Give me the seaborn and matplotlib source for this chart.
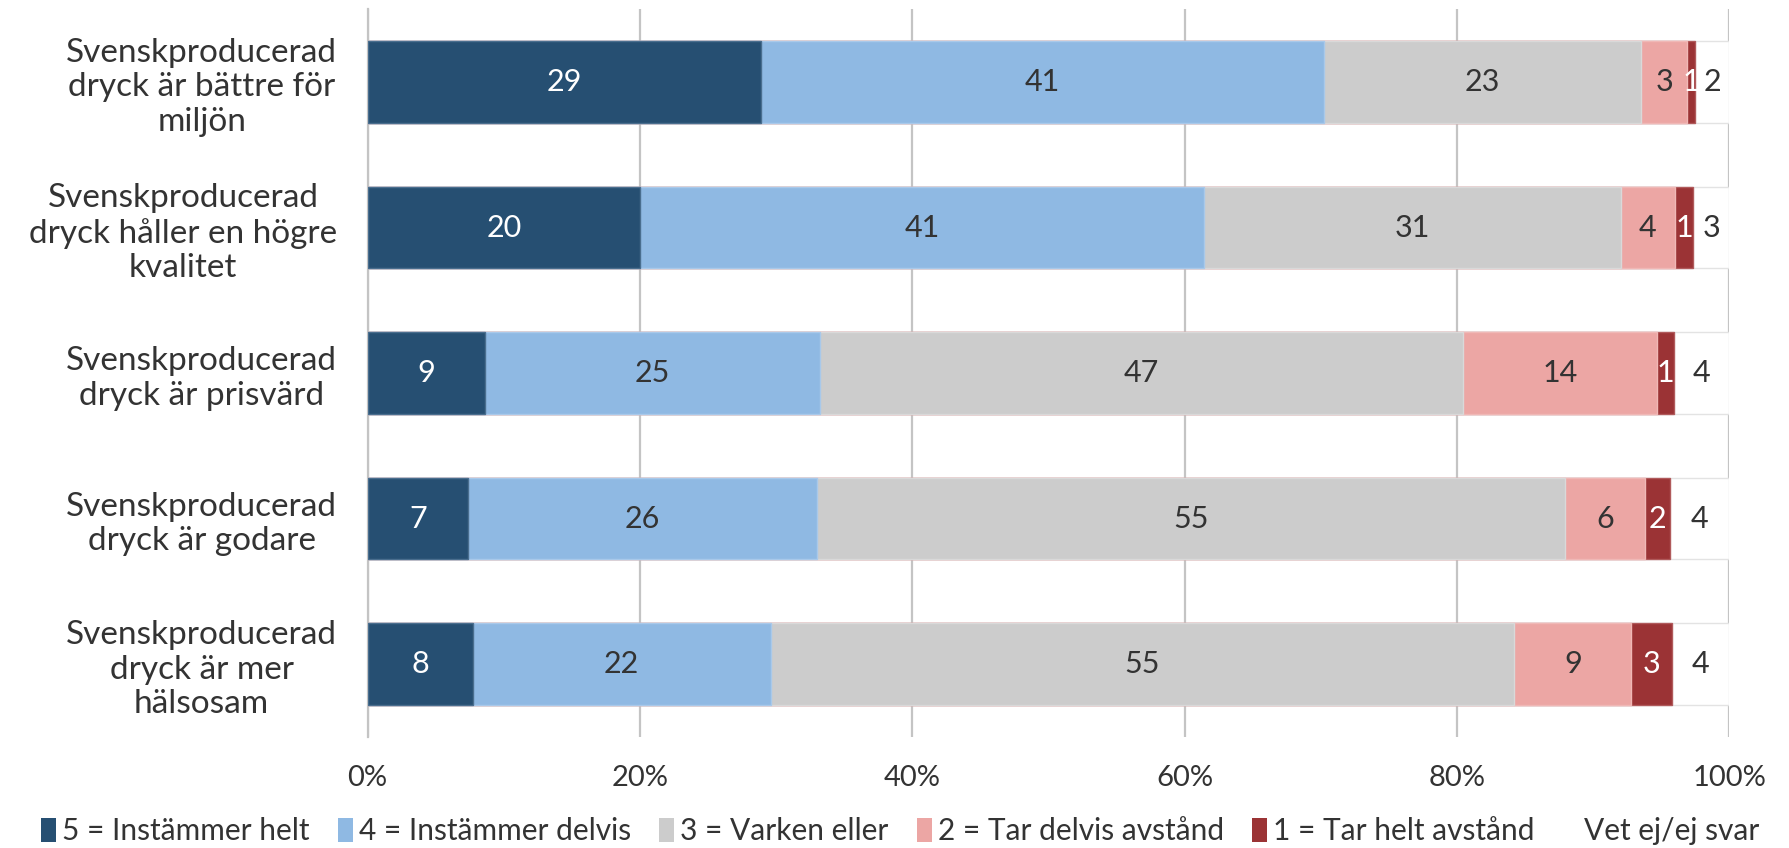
import matplotlib
matplotlib.use("Agg")
import matplotlib.pyplot as plt
import numpy as np
import pandas as pd
import seaborn as sns
from matplotlib.patches import Patch

# Data (percent of respondents per statement)
statements = [
    "Svenskproducerad\ndryck är bättre för\nmiljön",
    "Svenskproducerad\ndryck håller en högre\nkvalitet",
    "Svenskproducerad\ndryck är prisvärd",
    "Svenskproducerad\ndryck är godare",
    "Svenskproducerad\ndryck är mer\nhälsosam",
]
answers = [
    "5 = Instämmer helt",
    "4 = Instämmer delvis",
    "3 = Varken eller",
    "2 = Tar delvis avstånd",
    "1 = Tar helt avstånd",
    "Vet ej/ej svar",
]
agree_full = [28.9, 20.0, 8.6, 7.4, 7.7]
agree_part = [41.3, 41.4, 24.6, 25.6, 21.9]
neutral = [23.3, 30.6, 47.2, 54.9, 54.6]
disagree_part = [3.4, 4.0, 14.3, 5.9, 8.6]
disagree_full = [0.6, 1.3, 1.2, 1.8, 3.0]
dont_know = [2.5, 2.7, 4.1, 4.4, 4.2]

colors = ["#264f72", "#8fb9e3", "#cccccc", "#eca6a4", "#9b3335", "#ffffff"]
edges = ["#4a6e8e", "#a9c9ea", "#d9d9d9", "#f0b8b6", "#b05a5b", "#e3e3e3"]
text_colors = ["white", "#333333", "#333333", "#333333", "white", "#333333"]

sns.set_theme(style="white")
plt.rcParams["font.family"] = ["Lato", "DejaVu Sans"]

series = [agree_full, agree_part, neutral, disagree_part, disagree_full, dont_know]
vals = np.array(series)
cum = vals.cumsum(axis=0)

df = pd.DataFrame(
    {
        "statement": np.tile(statements, len(answers)),
        "answer": np.repeat(answers, len(statements)),
        "value": vals.ravel(),
        "cum": cum.ravel(),
    }
)

fig, ax = plt.subplots(figsize=(17.9, 8.48), dpi=100)
fig.subplots_adjust(left=0.2054, right=0.9662, top=0.989, bottom=0.131)

# draw cumulative bars back to front so shorter stacks sit on top
for i in reversed(range(len(answers))):
    sub = df[df["answer"] == answers[i]]
    sns.barplot(
        data=sub, x="cum", y="statement", orient="h", ax=ax,
        color=colors[i], edgecolor=edges[i], linewidth=1.0,
        width=0.56, saturation=1, zorder=3,
    )

# segment labels
for i in range(len(answers)):
    sub = df[df["answer"] == answers[i]].reset_index(drop=True)
    for j, row in sub.iterrows():
        xc = row["cum"] - row["value"] / 2
        ax.text(xc, j, f"{row['value']:.0f}", ha="center", va="center",
                fontsize=22, color=text_colors[i], zorder=5)

ax.set_xlim(0, 100)
ax.set_xticks(np.arange(0, 101, 20))
ax.set_xticklabels([f"{t}%" for t in range(0, 101, 20)], fontsize=21, color="#333333")
ax.set_xlabel("")
ax.set_ylabel("")
ax.tick_params(axis="x", length=0, pad=20)
ax.tick_params(axis="y", length=0, pad=22)
for lab in ax.get_yticklabels():
    lab.set_multialignment("center")
    lab.set_fontsize(24)
    lab.set_color("#333333")
    lab.set_linespacing(1.2)

ax.xaxis.grid(True, color="#c4c4c4", linewidth=1.6, zorder=0)
ax.set_axisbelow(True)
for side in ["top", "right", "bottom"]:
    ax.spines[side].set_visible(False)
ax.spines["left"].set_color("#c4c4c4")
ax.spines["left"].set_linewidth(1.6)

handles = [Patch(facecolor=c, edgecolor="none") for c in colors]
fig.legend(
    handles, answers, loc="center", bbox_to_anchor=(0.503, 0.02),
    ncol=6, frameon=False, fontsize=21.5, handlelength=0.5, handleheight=0.85,
    handletextpad=0.2, columnspacing=0.95, labelcolor="#333333",
)

fig.savefig("out.png", dpi=100)
